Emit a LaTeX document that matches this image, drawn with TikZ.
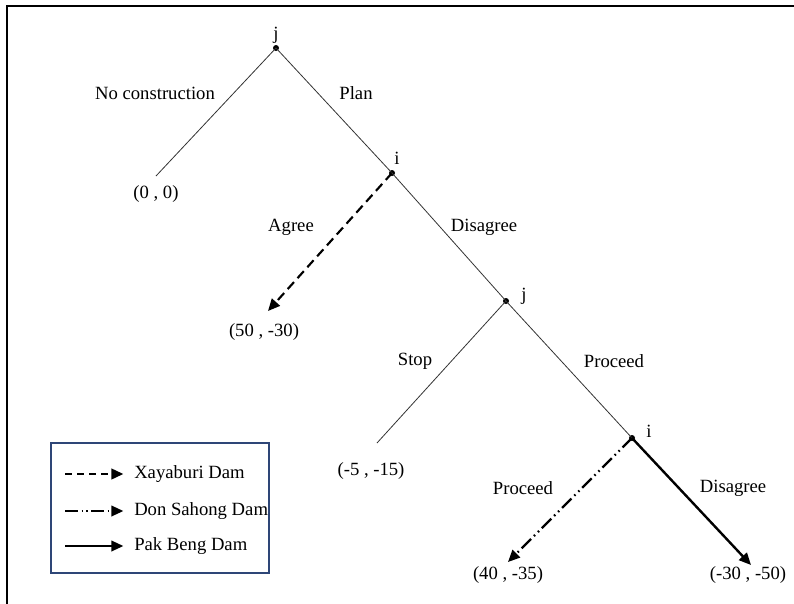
\documentclass[tikz,border=0pt]{standalone}
\usepackage{fontspec}
\setmainfont{Liberation Serif}
\usetikzlibrary{arrows.meta, positioning}
\definecolor{LegendBlue}{HTML}{2E4677}
\tikzset{
  % Node styles
  decision/.style={circle, fill=black, inner sep=0pt, minimum size=4.5pt},
  player/.style={font=\fontsize{14}{16}\selectfont, inner sep=1pt},
  movelabel/.style={font=\fontsize{14}{16}\selectfont, inner sep=1pt},
  payoff/.style={font=\fontsize{14}{16}\selectfont, inner sep=1pt},
  legendtext/.style={font=\fontsize{14}{16}\selectfont, inner sep=0pt, anchor=west},
  legendbox/.style={draw=LegendBlue, line width=0.9pt, minimum width=163.5pt, minimum height=97.5pt, inner sep=0pt},
  % Arrow styles
  branch/.style={line width=0.6pt, draw=black!80},
  dashedarrow/.style={-{Triangle[length=9pt, width=8pt]}, line width=1.6pt, dash pattern=on 7pt off 4pt},
  dotarrow/.style={-{Triangle[length=9pt, width=8pt]}, line width=1.6pt, dash pattern=on 10pt off 3pt on 1.2pt off 3pt on 1.2pt off 3pt},
  solidarrow/.style={-{Triangle[length=9pt, width=8pt]}, line width=1.8pt}
}

\begin{document}
\begin{tikzpicture}[x=0.75pt, y=-0.75pt]
  \useasboundingbox (0,0) rectangle (794,604);
  % frame (top and left only)
  \draw[line width=1.6pt] (7,604) -- (7,6) -- (794,6);

  % Decision nodes
  \node[decision] (j1) at (276,48) {};
  \node[decision] (i1) at (392,173) {};
  \node[decision] (j2) at (506,301) {};
  \node[decision] (i2) at (632,438) {};

  \node[player] (j1lab) at (276,35) {j};
  \node[player] (i1lab) at (397,158) {i};
  \node[player] (j2lab) at (524,296) {j};
  \node[player] (i2lab) at (649,431) {i};

  % End points
  \coordinate (e0) at (156,176);
  \coordinate (e1) at (268,311);
  \coordinate (e2) at (377,443);
  \coordinate (e3) at (508,562);
  \coordinate (e4) at (751,565);

  % Payoffs
  \node[payoff] (p0) at (156,194) {(0 , 0)};
  \node[payoff] (p1) at (264,332) {(50 , -30)};
  \node[payoff] (p2) at (371,471) {(-5 , -15)};
  \node[payoff] (p3) at (508,575) {(40 , -35)};
  \node[payoff] (p4) at (748,575) {(-30 , -50)};

  % Branches
  \draw[branch] (j1.center) -- (e0);
  \draw[branch] (j1.center) -- (i1.center);
  \draw[dashedarrow] (i1.center) -- (e1);
  \draw[branch] (i1.center) -- (j2.center);
  \draw[branch] (j2.center) -- (e2);
  \draw[branch] (j2.center) -- (i2.center);
  \draw[dotarrow] (i2.center) -- (e3);
  \draw[solidarrow] (i2.center) -- (e4);

  % Move labels
  \node[movelabel] (nocon) at (155,93) {No construction};
  \node[movelabel] (plan) at (356,93) {Plan};
  \node[movelabel] (agree) at (291,227) {Agree};
  \node[movelabel] (disag1) at (484,227) {Disagree};
  \node[movelabel] (stop) at (415,361) {Stop};
  \node[movelabel] (proc1) at (614,361) {Proceed};
  \node[movelabel] (proc2) at (523,488) {Proceed};
  \node[movelabel] (disag2) at (733,488) {Disagree};

  % Legend
  \node[legendbox] (legend) at (160,508) {};
  \node[legendtext] (leg1) at (134,474) {Xayaburi Dam};
  \node[legendtext] (leg2) at (134,511) {Don Sahong Dam};
  \node[legendtext] (leg3) at (134,546) {Pak Beng Dam};
  \coordinate (l1) at (65,474);
  \coordinate (l2) at (65,511);
  \coordinate (l3) at (65,546);
  \draw[dashedarrow, dash pattern=on 5.5pt off 3.5pt] (l1) -- ([xshift=-8pt]leg1.west);
  \draw[dotarrow, line width=1.3pt, dash pattern=on 10pt off 2.5pt on 1pt off 2.5pt on 1pt off 2.5pt] (l2) -- ([xshift=-8pt]leg2.west);
  \draw[solidarrow, line width=1.3pt] (l3) -- ([xshift=-8pt]leg3.west);
\end{tikzpicture}
\end{document}
